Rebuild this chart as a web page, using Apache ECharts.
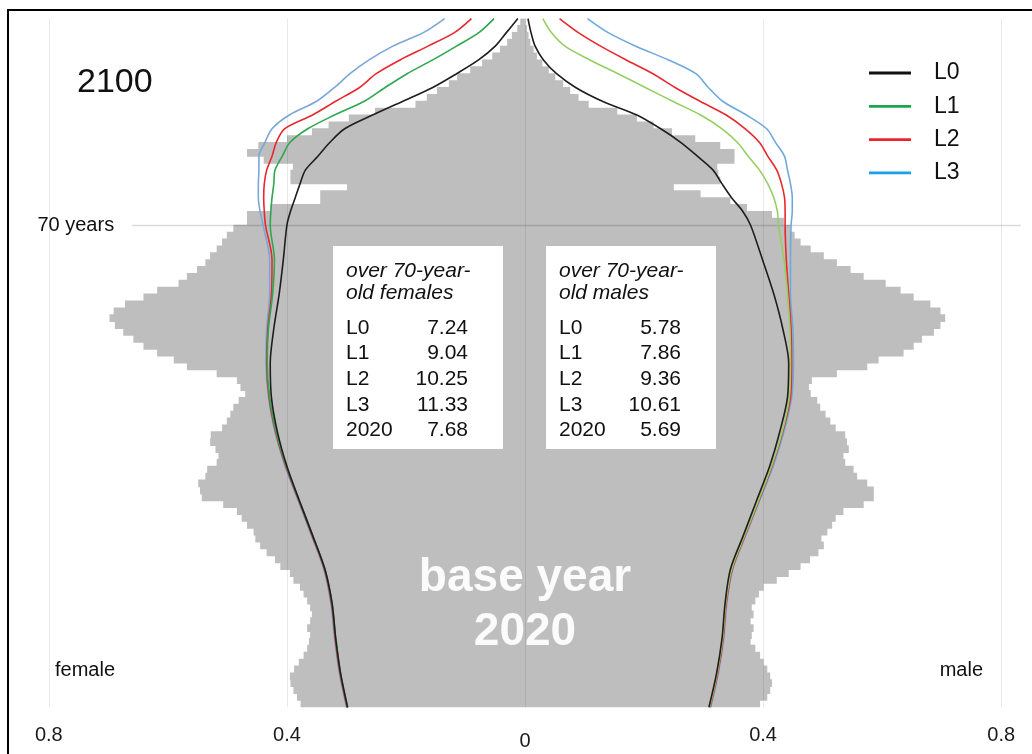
<!DOCTYPE html>
<html><head><meta charset="utf-8">
<script src="https://cdn.jsdelivr.net/npm/echarts@6/dist/echarts.min.js"></script>
<style>
html,body{margin:0;padding:0;background:#fff;width:1032px;height:754px;overflow:hidden}
#chart{position:absolute;left:0;top:0;width:1032px;height:754px}
#frame{position:absolute;left:7px;top:9px;width:1040px;height:760px;border-left:2px solid #000;border-top:2px solid #000;pointer-events:none}
</style></head>
<body><div id="chart"></div><div id="frame"></div>
<script>
// ---- data ----
// 2020 population shares by single year of age (0..99)
const femaleBars = [0.377,0.383,0.389,0.394,0.395,0.388,0.380,0.372,0.366,0.363,
0.361,0.366,0.361,0.358,0.361,0.366,0.372,0.378,0.389,0.395,
0.411,0.420,0.434,0.445,0.453,0.456,0.467,0.476,0.484,0.507,
0.543,0.546,0.549,0.537,0.534,0.518,0.515,0.520,0.529,0.528,
0.509,0.501,0.495,0.490,0.481,0.470,0.478,0.484,0.518,0.568,
0.590,0.618,0.641,0.658,0.675,0.689,0.698,0.691,0.672,0.641,
0.618,0.582,0.568,0.551,0.537,0.529,0.518,0.509,0.501,0.490,
0.467,0.467,0.428,0.344,0.344,0.299,0.394,0.394,0.390,0.439,
0.467,0.448,0.400,0.358,0.330,0.296,0.252,0.184,0.165,0.148,
0.128,0.114,0.092,0.072,0.055,0.042,0.030,0.022,0.013,0.008];
const maleBars = [0.395,0.407,0.412,0.415,0.412,0.407,0.401,0.395,0.387,0.379,
0.381,0.384,0.379,0.384,0.381,0.387,0.393,0.401,0.423,0.443,
0.463,0.479,0.493,0.502,0.498,0.508,0.516,0.522,0.535,0.569,
0.586,0.586,0.575,0.558,0.552,0.538,0.535,0.544,0.541,0.538,
0.522,0.513,0.505,0.496,0.491,0.480,0.477,0.482,0.524,0.575,
0.594,0.636,0.653,0.667,0.687,0.698,0.706,0.698,0.681,0.653,
0.631,0.606,0.569,0.547,0.524,0.502,0.480,0.463,0.453,0.446,
0.435,0.415,0.373,0.345,0.295,0.250,0.328,0.325,0.323,0.352,
0.352,0.328,0.286,0.247,0.216,0.188,0.155,0.107,0.090,0.076,
0.064,0.051,0.040,0.029,0.020,0.0145,0.009,0.006,0.0034,0.001];

// 2100 projections (L0..L3), sampled at these ages
const lineAges = [0,5,10,15,20,25,30,35,40,45,50,55,60,65,70,72,74,76,78,80,82,84,86,88,90,92,94,96,98,100];
const femaleL0 = [0.298,0.310,0.318,0.324,0.336,0.357,0.379,0.400,0.416,0.426,0.428,0.422,0.413,0.406,0.400,0.394,0.386,0.378,0.369,0.348,0.328,0.303,0.256,0.205,0.155,0.115,0.078,0.050,0.031,0.012];
const femaleL1 = [0.298,0.310,0.318,0.324,0.336,0.357,0.379,0.401,0.418,0.429,0.433,0.431,0.424,0.421,0.428,0.427,0.425,0.422,0.420,0.408,0.395,0.365,0.320,0.270,0.235,0.198,0.155,0.115,0.077,0.052];
const femaleL2 = [0.299,0.311,0.319,0.325,0.337,0.358,0.380,0.402,0.419,0.430,0.434,0.432,0.426,0.425,0.436,0.438,0.439,0.438,0.434,0.425,0.418,0.404,0.357,0.318,0.278,0.250,0.210,0.163,0.118,0.090];
const femaleL3 = [0.300,0.312,0.320,0.326,0.338,0.359,0.381,0.403,0.420,0.431,0.435,0.434,0.429,0.429,0.440,0.445,0.448,0.448,0.447,0.447,0.437,0.425,0.396,0.350,0.320,0.294,0.262,0.222,0.170,0.135];
const maleL0 = [0.309,0.322,0.331,0.336,0.345,0.367,0.389,0.411,0.428,0.441,0.443,0.433,0.418,0.399,0.379,0.366,0.347,0.331,0.316,0.290,0.262,0.228,0.188,0.130,0.085,0.053,0.031,0.017,0.010,0.005];
const maleL1 = [0.310,0.323,0.332,0.337,0.347,0.369,0.392,0.414,0.432,0.444,0.446,0.445,0.441,0.435,0.426,0.424,0.418,0.408,0.394,0.375,0.357,0.331,0.295,0.248,0.202,0.156,0.109,0.067,0.044,0.030];
const maleL2 = [0.311,0.324,0.333,0.338,0.348,0.370,0.393,0.415,0.433,0.446,0.448,0.447,0.443,0.439,0.437,0.437,0.436,0.431,0.423,0.408,0.394,0.370,0.338,0.294,0.252,0.215,0.170,0.127,0.089,0.058];
const maleL3 = [0.312,0.325,0.334,0.339,0.349,0.371,0.394,0.417,0.435,0.448,0.451,0.450,0.446,0.446,0.447,0.449,0.449,0.446,0.441,0.436,0.421,0.406,0.372,0.332,0.308,0.287,0.241,0.186,0.139,0.105];

// x tick labels
const xTicks = [-0.8, -0.4, 0, 0.4, 0.8];

// info boxes: share of over-70-year-olds
const rowLabels = ['L0','L1','L2','L3','2020'];
const femaleShares = ['7.24','9.04','10.25','11.33','7.68'];
const maleShares = ['5.78','7.86','9.36','10.61','5.69'];

const levelNames = ['L0','L1','L2','L3'];
// ---- end data ----

const FONT = '"Liberation Sans", Arial, Helvetica, sans-serif';
const femaleColors = ['#1e1e1e','#2fa650','#e8282e','#7aa6d8'];
const maleColors   = ['#1e1e1e','#95cf64','#e8282e','#6fa9dc'];
const legendColors = ['#111111','#1aa64a','#e8262b','#1aa0e6'];

const ageCats = femaleBars.map((_, i) => String(i));
const toPairs = (vals, sign) => vals.map((v, i) => [sign * v, lineAges[i]]);

const femaleLines = [femaleL0, femaleL1, femaleL2, femaleL3];
const maleLines = [maleL0, maleL1, maleL2, maleL3];

const barStyle = {color:'#bebebe'};
const series = [
  { type:'bar', name:'female2020', yAxisIndex:0, data: femaleBars.map(v => -v),
    itemStyle:barStyle, barWidth:7.8, barGap:'-100%', z:1, silent:true },
  { type:'bar', name:'male2020', yAxisIndex:0, data: maleBars,
    itemStyle:barStyle, barWidth:7.8, barGap:'-100%', z:1, silent:true }
];
const lineOrder = [3,2,1,0];
lineOrder.forEach(k => {
  series.push({ type:'line', name: levelNames[k], yAxisIndex:1, data: toPairs(femaleLines[k], -1),
    smooth:0.3, symbol:'none', lineStyle:{color: femaleColors[k], width:1.6},
    itemStyle:{color: femaleColors[k]}, z:5, silent:true });
  series.push({ type:'line', name: levelNames[k], yAxisIndex:1, data: toPairs(maleLines[k], 1),
    smooth:0.3, symbol:'none', lineStyle:{color: maleColors[k], width:1.6},
    itemStyle:{color: maleColors[k]}, z:5, silent:true });
});
// 70-years reference line
series.push({ type:'line', name:'ref70', yAxisIndex:1, data:[], symbol:'none', z:4, silent:true,
  markLine:{ silent:true, symbol:'none', animation:false,
    lineStyle:{color:'rgba(0,0,0,0.14)', width:1.4, type:'solid'},
    label:{show:true, position:'start', formatter:'70 years', fontSize:20, fontFamily:FONT, color:'#111', distance:18},
    data:[[{coord:[-0.66, 70]},{coord:[0.833, 70]}]] } });

function box(x0, t1, t2, vals) {
  const els = [];
  els.push({type:'rect', z:50, shape:{x:x0, y:246, width:170, height:203}, style:{fill:'#ffffff'}});
  els.push({type:'text', z:51, x:x0+13, y:271, style:{text:t1, font:`italic 21px ${FONT}`, fill:'#111', verticalAlign:'middle'}});
  els.push({type:'text', z:51, x:x0+13, y:293, style:{text:t2, font:`italic 21px ${FONT}`, fill:'#111', verticalAlign:'middle'}});
  rowLabels.forEach((lab, i) => {
    const y = 328 + i * 25.6;
    els.push({type:'text', z:51, x:x0+13, y, style:{text:lab, font:`21px ${FONT}`, fill:'#111', verticalAlign:'middle'}});
    els.push({type:'text', z:51, x:x0+135, y, style:{text:vals[i], font:`21px ${FONT}`, fill:'#111', align:'right', verticalAlign:'middle'}});
  });
  return els;
}

const graphic = [
  {type:'text', z:60, x:77, y:83, style:{text:'2100', font:`34px ${FONT}`, fill:'#111', verticalAlign:'middle'}},
  {type:'text', z:60, x:55, y:670, style:{text:'female', font:`20px ${FONT}`, fill:'#111', verticalAlign:'middle'}},
  {type:'text', z:60, x:983, y:670, style:{text:'male', font:`20px ${FONT}`, fill:'#111', align:'right', verticalAlign:'middle'}},
  {type:'text', z:60, x:525, y:578, style:{text:'base year', font:`bold 46px ${FONT}`, fill:'rgba(255,255,255,0.93)', align:'center', verticalAlign:'middle'}},
  {type:'text', z:60, x:525, y:632, style:{text:'2020', font:`bold 46px ${FONT}`, fill:'rgba(255,255,255,0.93)', align:'center', verticalAlign:'middle'}},
  ...box(333, 'over 70-year-', 'old females', femaleShares),
  ...box(546, 'over 70-year-', 'old males', maleShares)
];

const chart = echarts.init(document.getElementById('chart'), null, {renderer:'canvas'});
chart.setOption({
  animation:false,
  backgroundColor:'#ffffff',
  textStyle:{fontFamily:FONT},
  grid:{left:25, right:7, top:18.6, bottom:46.7, containLabel:false},
  xAxis:{ type:'value', min:-0.84, max:0.84, z:3,
    axisLine:{show:false},
    axisTick:{show:false, customValues: xTicks},
    splitLine:{show:true, lineStyle:{color:'rgba(0,0,0,0.085)', width:1}},
    axisLabel:{ customValues: xTicks, fontSize:20, color:'#1a1a1a', margin:18, fontFamily:FONT,
      formatter: v => (Math.abs(v) < 1e-9 ? '{z|0}' : String(Math.abs(v))),
      rich:{ z:{fontSize:20, color:'#1a1a1a', padding:[6,0,0,0], fontFamily:FONT} } }
  },
  yAxis:[
    { type:'category', data: ageCats, show:false, boundaryGap:true },
    { type:'value', min:0, max:100, show:false }
  ],
  legend:{
    orient:'vertical', left:869, top:61, padding:0, icon:'rect', itemWidth:42, itemHeight:2.8, itemGap:9.3,
    selectedMode:false,
    textStyle:{fontSize:23, color:'#111', fontFamily:FONT, lineHeight:24, padding:[0,0,0,18]},
    data: levelNames.map((n, i) => ({ name:n, icon:'rect', itemStyle:{color:legendColors[i]} }))
  },
  series,
  graphic
});
</script></body></html>
